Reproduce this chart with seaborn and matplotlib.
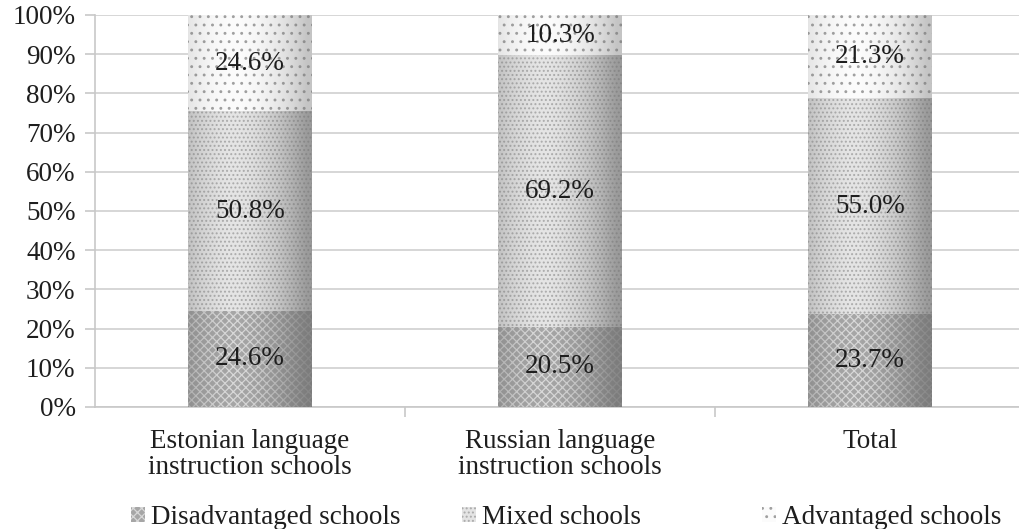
import matplotlib
matplotlib.use("Agg")
import matplotlib.pyplot as plt
import seaborn as sns
import pandas as pd
import numpy as np
from matplotlib.patches import Patch

categories = ["Estonian language\ninstruction schools", "Russian language\ninstruction schools", "Total"]
disadvantaged = [24.6, 20.5, 23.7]
mixed = [50.8, 69.2, 55.0]
advantaged = [24.6, 10.3, 21.3]
series_names = ["Disadvantaged schools", "Mixed schools", "Advantaged schools"]
ytick_labels = ["0%", "10%", "20%", "30%", "40%", "50%", "60%", "70%", "80%", "90%", "100%"]

sns.set_theme(style="white")
plt.rcParams["font.family"] = ["Liberation Serif", "DejaVu Serif"]
plt.rcParams["hatch.linewidth"] = 0.9

FS = 19.5
TXT = "#1e1e1e"

fig = plt.figure(figsize=(10.19, 5.29), dpi=100)
ax = fig.add_axes([95 / 1019, 1 - 407 / 529, (1025 - 95) / 1019, (407 - 15) / 529])

df = pd.DataFrame({
    "cat": categories,
    "d": disadvantaged,
    "m": mixed,
    "a": advantaged,
})
df["dm"] = df["d"] + df["m"]
df["dma"] = df["dm"] + df["a"]

styles = [
    ("dma", "#fbfbfb", "#a0a0a0", ".."),
    ("dm", "#e4e4e4", "#ababab", "...."),
    ("d", "#a6a6a6", "#d8d8d8", "xxxx"),
]
for col, fc, hc, hatch in styles:
    sns.barplot(data=df, x="cat", y=col, ax=ax, color=fc, width=0.4,
                saturation=1, linewidth=0, edgecolor=hc, hatch=hatch, zorder=3)

# cylinder-like shading
for p in ax.patches:
    x0, y0 = p.get_x(), p.get_y()
    w, h = p.get_width(), p.get_height()
    xs = np.linspace(-1, 1, 200)
    shade = np.clip(np.abs(xs + 0.25) * 0.85, 0, 1) ** 2
    img = np.zeros((1, 200, 4))
    img[..., 0:3] = 0.45
    img[..., 3] = shade * 0.4
    im = ax.imshow(img, extent=[x0, x0 + w, y0, y0 + h], aspect="auto",
                   zorder=4, interpolation="bilinear")
    im.set_clip_path(p)

ax.set_xlim(-0.5, 2.5)
ax.set_ylim(0, 100)
ax.set_yticks(np.arange(0, 101, 10))
ax.set_yticklabels(ytick_labels, fontsize=FS, color=TXT)
ax.set_xticks([0, 1, 2])
ax.set_xticklabels(categories, fontsize=FS, color=TXT, linespacing=1.05)
ax.set_xlabel("")
ax.set_ylabel("")
ax.yaxis.grid(True, color="#cfcfcf", linewidth=1.2, zorder=0)
ax.set_axisbelow(True)
for s in ["top", "right"]:
    ax.spines[s].set_visible(False)
for s in ["left", "bottom"]:
    ax.spines[s].set_color("#c8c8c8")
    ax.spines[s].set_linewidth(1.2)
ax.tick_params(axis="y", which="both", left=True, length=7, color="#c8c8c8", width=1.2, pad=7)
ax.tick_params(axis="x", bottom=False, pad=10)
# category boundary ticks
ax.set_xticks([0.5, 1.5], minor=True)
ax.tick_params(axis="x", which="minor", bottom=True, length=7, color="#c8c8c8", width=1.2)

for i in range(len(categories)):
    vals = [disadvantaged[i], mixed[i], advantaged[i]]
    base = 0
    for v in vals:
        ax.text(i, base + v / 2, f"{v:.1f}%", ha="center", va="center",
                fontsize=FS, color=TXT, zorder=6)
        base += v

handles = [
    Patch(facecolor="#a6a6a6", edgecolor="#d8d8d8", hatch="xxxx", linewidth=0),
    Patch(facecolor="#e4e4e4", edgecolor="#ababab", hatch="....", linewidth=0),
    Patch(facecolor="#fbfbfb", edgecolor="#a0a0a0", hatch="..", linewidth=0),
]
legend_x = [131, 462, 762]
for h, name, lx in zip(handles, series_names, legend_x):
    leg = fig.legend([h], [name], loc="lower left", frameon=False, fontsize=FS,
                     handlelength=0.5, handleheight=0.5, handletextpad=0.25,
                     borderpad=0, borderaxespad=0,
                     bbox_to_anchor=(lx / 1019, -1 / 529))
    for t in leg.get_texts():
        t.set_color(TXT)

fig.savefig("out.png", dpi=100)
